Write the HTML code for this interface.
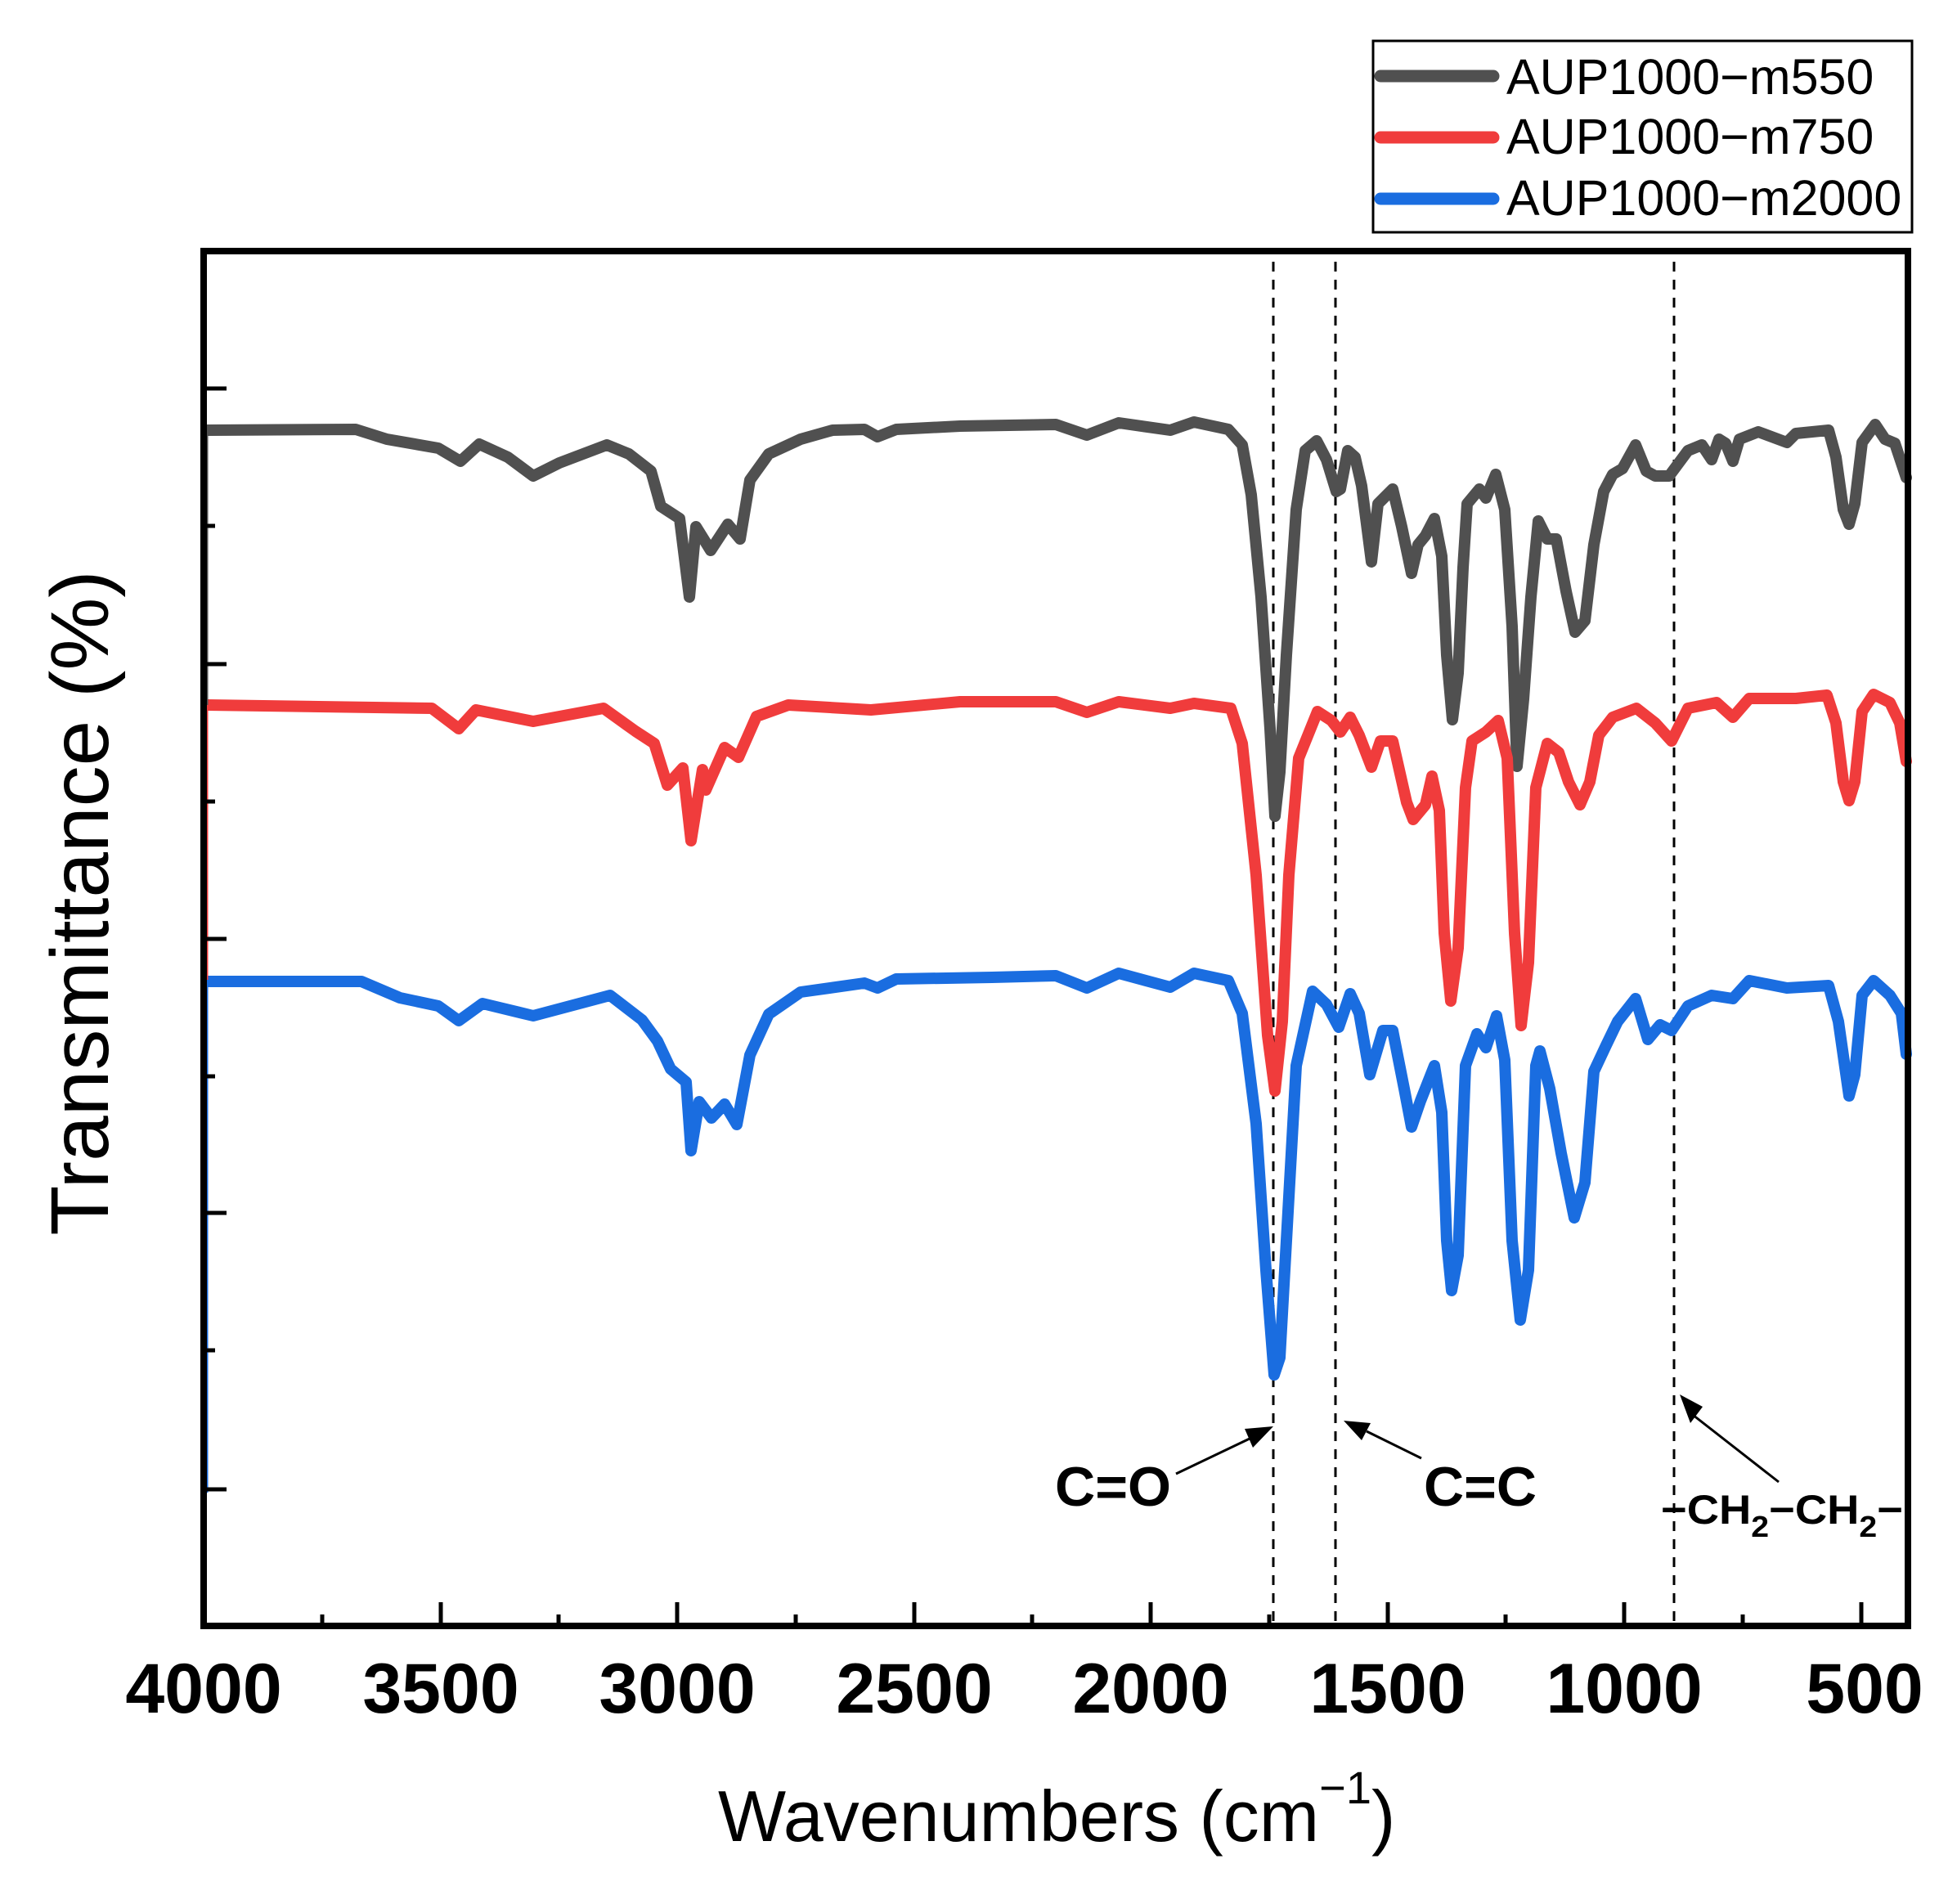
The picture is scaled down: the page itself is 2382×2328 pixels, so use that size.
<!DOCTYPE html>
<html><head><meta charset="utf-8"><style>
html,body{margin:0;padding:0;background:#fff;}
svg{display:block;}
text{font-family:"Liberation Sans",Arial,sans-serif;}
</style></head><body>
<svg width="2382" height="2328" viewBox="0 0 2382 2328" xmlns="http://www.w3.org/2000/svg">
<rect width="2382" height="2328" fill="#fff"/>
<g stroke="#000" stroke-width="3" stroke-dasharray="12,10">
<line x1="1557" y1="320" x2="1557" y2="1984"/>
<line x1="1633" y1="320" x2="1633" y2="1984"/>
<line x1="2047" y1="320" x2="2047" y2="1984"/>
</g>
<g fill="none" stroke-width="14" stroke-linejoin="round" stroke-linecap="round">
<polyline stroke="#505050" points="252,526 435,525 473,537 536,548 563,564 586,543 621,559 652,582 684,566 742,544 769,555 796,576 808,619 831,634 843,730 851,644 869,673 890,641 905,659 917,587 940,555 979,537 1018,526 1057,525 1073,534 1096,525 1174,521 1291,519 1329,532 1368,517 1431,526 1460,516 1502,525 1519,544 1530,605 1542,730 1553,891 1559,998 1565,944 1573,801 1585,623 1596,551 1610,539 1622,562 1634,601 1639,598 1648,551 1657,559 1665,594 1677,687 1685,616 1703,598 1714,644 1726,701 1734,666 1743,655 1754,634 1763,680 1769,801 1776,880 1783,823 1789,694 1794,616 1809,598 1817,609 1829,580 1840,623 1849,766 1855,937 1863,855 1872,730 1881,637 1892,659 1903,659 1915,723 1926,773 1938,759 1949,666 1961,601 1972,580 1984,573 2000,544 2013,576 2024,582 2041,582 2064,551 2081,544 2093,562 2102,537 2110,542 2119,564 2127,537 2150,528 2185,541 2196,530 2236,526 2245,559 2254,623 2261,641 2268,616 2277,541 2293,519 2305,537 2317,542 2331,584"/>
<polyline stroke="#f03c3c" points="252,862 528,866 561,891 582,868 652,882 738,866 777,894 800,909 816,960 835,939 845,1028 859,941 863,966 886,914 903,926 925,876 964,862 1065,868 1174,858 1291,858 1329,871 1368,858 1431,866 1460,860 1505,866 1519,909 1536,1070 1550,1266 1559,1334 1568,1249 1576,1070 1588,927 1611,870 1628,881 1639,895 1651,877 1662,899 1677,938 1688,906 1703,906 1720,981 1728,1002 1743,984 1751,949 1760,991 1766,1141 1774,1224 1783,1159 1792,963 1800,906 1817,895 1832,881 1843,927 1852,1141 1860,1254 1869,1177 1878,963 1892,909 1906,920 1918,956 1932,984 1944,956 1955,899 1972,877 2001,866 2024,884 2044,906 2064,866 2099,859 2119,877 2139,854 2196,854 2234,850 2245,884 2254,956 2261,979 2268,956 2277,870 2291,849 2311,859 2323,884 2331,931"/>
<polyline stroke="#1a6de0" points="252,1200 442,1200 489,1220 536,1230 561,1248 590,1227 652,1242 746,1217 785,1247 804,1273 820,1307 839,1323 845,1407 855,1347 870,1367 886,1350 901,1375 917,1290 940,1240 979,1213 1057,1202 1073,1208 1096,1197 1213,1195 1291,1193 1329,1208 1368,1190 1431,1207 1460,1190 1502,1199 1519,1239 1536,1374 1548,1553 1558,1681 1565,1660 1573,1517 1585,1303 1605,1212 1622,1228 1637,1256 1651,1215 1662,1239 1675,1314 1691,1260 1703,1260 1717,1331 1726,1378 1737,1346 1754,1303 1763,1360 1769,1517 1775,1578 1783,1535 1792,1303 1806,1264 1817,1281 1830,1242 1840,1296 1849,1517 1859,1614 1869,1553 1878,1303 1883,1285 1895,1331 1909,1410 1925,1489 1938,1446 1949,1310 1964,1278 1978,1249 2000,1221 2015,1271 2030,1253 2044,1260 2064,1230 2093,1217 2119,1221 2139,1199 2185,1208 2236,1205 2248,1249 2261,1340 2268,1314 2277,1217 2291,1199 2311,1217 2325,1239 2331,1289"/>
</g>
<g stroke-width="7">
<line x1="251" y1="526" x2="251" y2="862" stroke="#505050"/>
<line x1="251" y1="862" x2="251" y2="1198" stroke="#f03c3c"/>
<line x1="251" y1="1198" x2="251" y2="1825" stroke="#1a6de0"/>
</g>
<rect x="249" y="307" width="2084" height="1681" fill="none" stroke="#000" stroke-width="8"/>
<g stroke="#000" stroke-width="5">
<line x1="249" y1="1988" x2="249" y2="1959"/>
<line x1="539" y1="1988" x2="539" y2="1959"/>
<line x1="828" y1="1988" x2="828" y2="1959"/>
<line x1="1118" y1="1988" x2="1118" y2="1959"/>
<line x1="1407" y1="1988" x2="1407" y2="1959"/>
<line x1="1697" y1="1988" x2="1697" y2="1959"/>
<line x1="1986" y1="1988" x2="1986" y2="1959"/>
<line x1="2276" y1="1988" x2="2276" y2="1959"/>
<line x1="394" y1="1988" x2="394" y2="1974"/>
<line x1="683" y1="1988" x2="683" y2="1974"/>
<line x1="973" y1="1988" x2="973" y2="1974"/>
<line x1="1262" y1="1988" x2="1262" y2="1974"/>
<line x1="1552" y1="1988" x2="1552" y2="1974"/>
<line x1="1841" y1="1988" x2="1841" y2="1974"/>
<line x1="2131" y1="1988" x2="2131" y2="1974"/>
<line x1="249" y1="475" x2="277" y2="475"/>
<line x1="249" y1="812" x2="277" y2="812"/>
<line x1="249" y1="1148" x2="277" y2="1148"/>
<line x1="249" y1="1483" x2="277" y2="1483"/>
<line x1="249" y1="1821" x2="277" y2="1821"/>
<line x1="249" y1="643" x2="263" y2="643"/>
<line x1="249" y1="980" x2="263" y2="980"/>
<line x1="249" y1="1316" x2="263" y2="1316"/>
<line x1="249" y1="1651" x2="263" y2="1651"/>
</g>
<g font-weight="bold" font-size="86" text-anchor="middle" fill="#000">
<text x="249" y="2094">4000</text>
<text x="539" y="2094">3500</text>
<text x="828" y="2094">3000</text>
<text x="1118" y="2094">2500</text>
<text x="1407" y="2094">2000</text>
<text x="1697" y="2094">1500</text>
<text x="1986" y="2094">1000</text>
<text x="2280" y="2094">500</text>
</g>
<text x="878" y="2251" font-size="88" fill="#000">Wavenumbers (cm<tspan font-size="56" dy="-46">−1</tspan><tspan dy="46">)</tspan></text>
<text transform="translate(132,1104) rotate(-90)" font-size="100" text-anchor="middle" fill="#000">Transmittance (%)</text>
<rect x="1679" y="50" width="659" height="234" fill="#fff" stroke="#000" stroke-width="3"/>
<g stroke-width="15" stroke-linecap="round">
<line x1="1688" y1="93" x2="1826" y2="93" stroke="#505050"/>
<line x1="1688" y1="168" x2="1826" y2="168" stroke="#f03c3c"/>
<line x1="1688" y1="243" x2="1826" y2="243" stroke="#1a6de0"/>
</g>
<g font-size="61" fill="#000">
<text x="1842" y="115">AUP1000−m550</text>
<text x="1842" y="188">AUP1000−m750</text>
<text x="1842" y="263">AUP1000−m2000</text>
</g>
<g stroke="#000" stroke-width="3" fill="none">
<line x1="1438" y1="1802" x2="1528" y2="1759"/>
<line x1="1738" y1="1783" x2="1671" y2="1750"/>
<line x1="2175" y1="1812" x2="2070" y2="1730"/>
</g>
<g fill="#000">
<polygon points="1557,1744 1522,1747 1532,1770"/>
<polygon points="1643,1737 1676,1740 1665,1761"/>
<polygon points="2054,1705 2067,1740 2082,1720"/>
</g>
<g font-weight="bold" fill="#000">
<text x="1290" y="1841" font-size="68" textLength="142" lengthAdjust="spacingAndGlyphs">C=O</text>
<text x="1741" y="1841" font-size="68" textLength="138" lengthAdjust="spacingAndGlyphs">C=C</text>
<text x="2031" y="1863" font-size="50" textLength="296" lengthAdjust="spacingAndGlyphs">−CH<tspan font-size="36" dy="16">2</tspan><tspan dy="-16">−CH</tspan><tspan font-size="36" dy="16">2</tspan><tspan dy="-16">−</tspan></text>
</g>
</svg>
</body></html>
